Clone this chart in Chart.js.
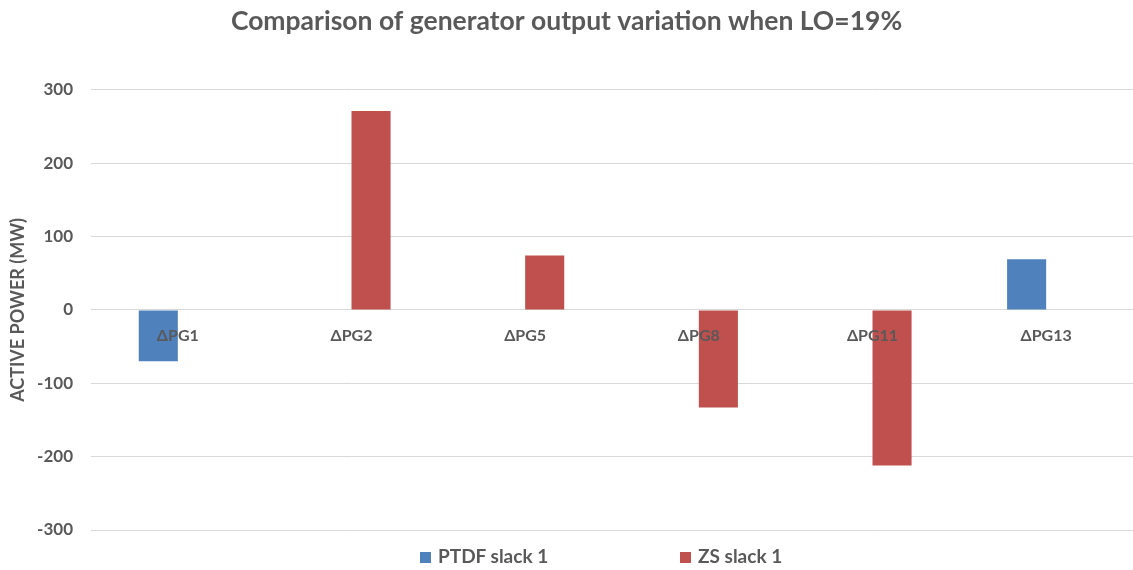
<!DOCTYPE html>
<html>
<head>
<meta charset="utf-8">
<script src="https://cdn.jsdelivr.net/npm/chart.js@4.4.1/dist/chart.umd.min.js"></script>
<style>
  body { margin: 0; background: #fff; }
  #wrap { position: relative; width: 1133px; height: 570px; }
  #legend span.item { position: absolute; top: 544px; font: bold 19px Lato, sans-serif; color: #595959; white-space: nowrap; }
  #legend span.box { display: inline-block; width: 11px; height: 11px; margin-right: 7px; }
</style>
</head>
<body>
<div id="wrap">
  <canvas id="myBarChart" width="1133" height="570"></canvas>
  <div id="legend"></div>
</div>
<script>
// chart data
let categories = ["ΔPG1", "ΔPG2", "ΔPG5", "ΔPG8", "ΔPG11", "ΔPG13"];
let ptdfValues = [-70, null, null, null, null, 69];
let zsValues = [null, 271, 74, -133, -212, null];
let seriesNames = ["PTDF slack 1", "ZS slack 1"];
let barColors = ["#4f81bd", "#c0504d"];

let textColor = "#595959";
let fontName = "Lato, sans-serif";

let chart1 = document.getElementById("myBarChart").getContext("2d");

const myChart1 = new Chart(chart1, {
  type: "bar",
  data: {
    labels: categories,
    datasets: [
      {
        label: seriesNames[0],
        data: ptdfValues,
        backgroundColor: barColors[0],
        categoryPercentage: 0.45,
        barPercentage: 1.0,
      },
      {
        label: seriesNames[1],
        data: zsValues,
        backgroundColor: barColors[1],
        categoryPercentage: 0.45,
        barPercentage: 1.0,
      },
    ],
  },
  options: {
    responsive: false,
    animation: false,
    layout: { padding: { left: 0, right: 0, top: 0, bottom: 40 } },
    plugins: {
      legend: { display: false },
      tooltip: { enabled: false },
      title: {
        display: true,
        text: "Comparison of generator output variation when LO=19%",
        color: textColor,
        font: { family: fontName, size: 26.5, weight: "bold" },
        padding: { top: 6, bottom: 52 },
      },
    },
    scales: {
      x: {
        position: { y: 0 },
        grid: { display: false, drawTicks: false },
        border: { display: false },
        ticks: {
          z: 1,
          color: textColor,
          font: { family: fontName, size: 16, weight: "bold" },
          padding: 16,
          maxRotation: 0,
        },
      },
      y: {
        min: -300,
        max: 300,
        afterFit: (scale) => {
          scale.width = 91;
        },
        grid: { color: "#d9d9d9", drawTicks: false },
        border: { display: false },
        ticks: {
          stepSize: 100,
          color: textColor,
          font: { family: fontName, size: 17, weight: "bold" },
          padding: 18,
        },
        title: {
          display: true,
          text: "ACTIVE POWER (MW)",
          color: textColor,
          font: { family: fontName, size: 18, weight: "bold" },
          padding: { top: 7, bottom: 4 },
        },
      },
    },
  },
});

// legend below the plot
let legendLeft = [420, 680];
let legendHtml = "";
for (let i = 0; i < seriesNames.length; i++) {
  legendHtml += `<span class="item" style="left:${legendLeft[i]}px"><span class="box" style="background:${barColors[i]}"></span>${seriesNames[i]}</span>`;
}
document.getElementById("legend").innerHTML = legendHtml;
</script>
</body>
</html>
